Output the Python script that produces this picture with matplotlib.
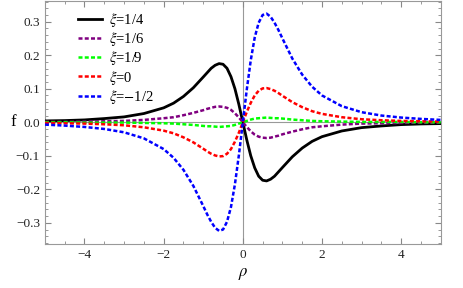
import matplotlib.pyplot as plt
from matplotlib.ticker import MultipleLocator

plt.rcParams['font.family'] = ['Liberation Serif', 'DejaVu Serif']
plt.rcParams['mathtext.fontset'] = 'stix'

rho = [-5, -4.5, -4, -3.5, -3, -2.5, -2, -1.75, -1.5, -1.25, -1,
       -0.9, -0.8, -0.7, -0.6, -0.5, -0.4, -0.3, -0.2, -0.1, 0,
       0.1, 0.2, 0.3, 0.4, 0.5, 0.6, 0.7, 0.8, 0.9, 1,
       1.25, 1.5, 1.75, 2, 2.5, 3, 3.5, 4, 4.5, 5]

# 读图得到的数值
f_quarter = [0.004, 0.005, 0.007, 0.011, 0.016, 0.026, 0.043, 0.057, 0.077, 0.103, 0.135,
             0.148, 0.161, 0.170, 0.175, 0.173, 0.161, 0.136, 0.100, 0.053, 0.0,
             -0.053, -0.100, -0.136, -0.161, -0.173, -0.175, -0.170, -0.161, -0.148, -0.135,
             -0.103, -0.077, -0.057, -0.043, -0.026, -0.016, -0.011, -0.007, -0.005, -0.004]
f_sixth = [0.001, 0.001, 0.002, 0.003, 0.004, 0.007, 0.012, 0.015, 0.021, 0.028, 0.036,
           0.040, 0.043, 0.046, 0.047, 0.046, 0.043, 0.037, 0.027, 0.014, 0.0,
           -0.014, -0.027, -0.037, -0.043, -0.046, -0.047, -0.046, -0.043, -0.040, -0.036,
           -0.028, -0.021, -0.015, -0.012, -0.007, -0.004, -0.003, -0.002, -0.001, -0.001]
f_ninth = [-0.0, -0.0, -0.001, -0.001, -0.001, -0.002, -0.003, -0.004, -0.006, -0.008, -0.011,
           -0.012, -0.012, -0.013, -0.014, -0.013, -0.012, -0.011, -0.008, -0.004, 0.0,
           0.004, 0.008, 0.011, 0.012, 0.013, 0.014, 0.013, 0.012, 0.012, 0.011,
           0.008, 0.006, 0.004, 0.003, 0.002, 0.001, 0.001, 0.001, 0.0, 0.0]
f_zero = [-0.002, -0.003, -0.004, -0.006, -0.009, -0.015, -0.025, -0.033, -0.045, -0.060, -0.079,
          -0.087, -0.094, -0.099, -0.102, -0.101, -0.094, -0.080, -0.058, -0.031, 0.0,
          0.031, 0.058, 0.080, 0.094, 0.101, 0.102, 0.099, 0.094, 0.087, 0.079,
          0.060, 0.045, 0.033, 0.025, 0.015, 0.009, 0.006, 0.004, 0.003, 0.002]
f_mhalf = [-0.007, -0.010, -0.014, -0.020, -0.030, -0.048, -0.080, -0.106, -0.142, -0.190, -0.250,
           -0.275, -0.297, -0.315, -0.324, -0.320, -0.297, -0.253, -0.185, -0.098, 0.0,
           0.098, 0.185, 0.253, 0.297, 0.320, 0.324, 0.315, 0.297, 0.275, 0.250,
           0.190, 0.142, 0.106, 0.080, 0.048, 0.030, 0.020, 0.014, 0.010, 0.007]

series = [
    (f_quarter, r'$\xi$=1/4', 'black', '-'),
    (f_sixth, r'$\xi$=1/6', '#800080', '--'),
    (f_ninth, r'$\xi$=1/9', '#00ff00', '--'),
    (f_zero, r'$\xi$=0', '#ff0000', '--'),
    (f_mhalf, r'$\xi$=$-$1/2', '#0000ff', '--'),
]

fig = plt.figure(figsize=(4.63, 2.88), dpi=100)
ax = fig.add_axes([0.097, 0.153, 0.855, 0.845])
ax.axhline(0, color='#999999', lw=0.8, zorder=1)
ax.axvline(0, color='#999999', lw=0.8, zorder=1)
for y, lab, c, ls in series:
    if ls == '-':
        ax.plot(rho, y, color=c, lw=2.0, label=lab, zorder=3)
    else:
        ax.plot(rho, y, color=c, lw=1.8, label=lab, dashes=(1.6, 0.9), zorder=3)

ax.set_xlim(-5, 5)
ax.set_ylim(-0.363, 0.363)
ax.xaxis.set_major_locator(MultipleLocator(2))
ax.xaxis.set_minor_locator(MultipleLocator(0.5))
ax.yaxis.set_major_locator(MultipleLocator(0.1))
ax.yaxis.set_minor_locator(MultipleLocator(0.02))
ax.yaxis.set_major_formatter(plt.FuncFormatter(lambda v, p: f'{v:.1f}'.replace('-', '\u2212')))
ax.xaxis.set_major_formatter(plt.FuncFormatter(lambda v, p: f'{v:.0f}'.replace('-', '\u2212')))
ax.tick_params(which='both', direction='in', top=True, right=True, labeltop=False,
               labelright=False, color='#888888', labelsize=9.5, labelcolor='#222222')
ax.tick_params(which='major', length=4)
ax.tick_params(which='minor', length=2)
for s in ax.spines.values():
    s.set_color('#999999')
    s.set_linewidth(0.8)

ax.set_xlabel(r'$\rho$', fontsize=12, labelpad=4)
ax.set_ylabel('f', fontsize=12, rotation=0, va='center')
ax.yaxis.set_label_coords(-0.08, 0.5)

ax.legend(loc='upper left', bbox_to_anchor=(0.055, 1.005), frameon=False, fontsize=10.5,
          handlelength=1.6, handletextpad=0.5, labelspacing=0.08, borderpad=0.3)

plt.savefig('out.png', dpi=100)
